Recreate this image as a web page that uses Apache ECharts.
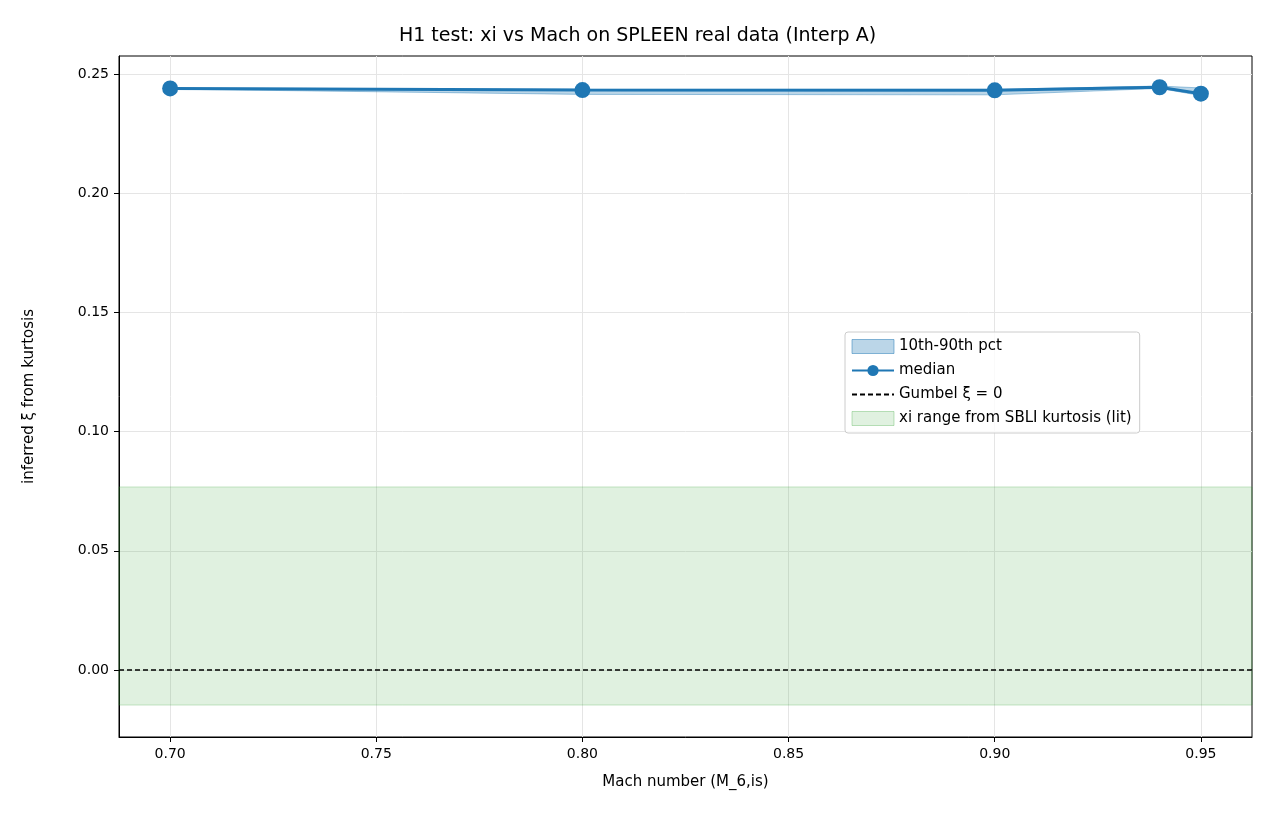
<!DOCTYPE html><html><head><meta charset="utf-8"><script src="https://cdn.jsdelivr.net/npm/echarts@6/dist/echarts.min.js"></script></head><body style="margin:0"><div id="c" style="width:1275px;height:825px"></div><script>
const mach=[0.70,0.80,0.90,0.94,0.95];
const median=[0.2440,0.2433,0.2432,0.2445,0.2418];
const p10=[0.2437,0.2415,0.2413,0.2440,0.2410];
const p90=[0.2442,0.2436,0.2436,0.2450,0.2442];
const litRange=[-0.0147,0.0768];
const xTicks=[0.70,0.75,0.80,0.85,0.90,0.95];
const yTicks=[0,0.05,0.1,0.15,0.2,0.25];
const f="DejaVu Sans";
const ch=echarts.init(document.getElementById('c'));
ch.setOption({animation:false,
title:{text:'H1 test: xi vs Mach on SPLEEN real data (Interp A)',left:'center',top:22,textStyle:{fontFamily:f,fontSize:19,fontWeight:'normal',color:'#000'}},
grid:{left:119,right:23,top:56,bottom:88,show:true,borderColor:'#000',borderWidth:1},
legend:{orient:'vertical',left:845,top:332,itemGap:9,padding:[7,8,7,6],borderColor:'#ccc',borderWidth:1,borderRadius:3,backgroundColor:'rgba(255,255,255,0.8)',textStyle:{fontFamily:f,fontSize:15,color:'#000'},itemWidth:42,itemHeight:14,
data:[{name:'10th-90th pct',icon:'rect',itemStyle:{color:'rgba(31,119,180,0.3)',borderColor:'rgba(31,119,180,0.5)',borderWidth:1}},{name:'median'},{name:'Gumbel ξ = 0',itemStyle:{opacity:0}},{name:'xi range from SBLI kurtosis (lit)',icon:'rect',itemStyle:{color:'rgba(44,160,44,0.15)',borderColor:'rgba(44,160,44,0.3)',borderWidth:1}}]},
xAxis:{type:'value',min:0.6876,max:0.9624,interval:0.05,name:'Mach number (M_6,is)',nameLocation:'middle',nameGap:38,nameTextStyle:{fontFamily:f,fontSize:15,color:'#000'},
axisLine:{onZero:false,lineStyle:{color:'#000'}},axisTick:{show:true,customValues:xTicks,lineStyle:{color:'#000'}},
axisLabel:{customValues:xTicks,formatter:v=>v.toFixed(2),fontFamily:f,fontSize:14,color:'#000',margin:10},splitLine:{show:true,lineStyle:{color:'#e5e5e5'}}},
yAxis:{type:'value',min:-0.0281,max:0.2576,name:'inferred ξ from kurtosis',nameLocation:'middle',nameGap:82,nameTextStyle:{fontFamily:f,fontSize:15,color:'#000'},
axisLine:{show:true,lineStyle:{color:'#000'}},axisTick:{show:true,customValues:yTicks,lineStyle:{color:'#000'}},
axisLabel:{customValues:yTicks,formatter:v=>v.toFixed(2),fontFamily:f,fontSize:14,color:'#000',margin:10},splitLine:{show:true,lineStyle:{color:'#e5e5e5'}}},
series:[
{name:'xi range from SBLI kurtosis (lit)',type:'line',data:[],itemStyle:{color:'rgba(44,160,44,0.15)'},
 markArea:{silent:true,itemStyle:{color:'rgba(44,160,44,0.15)',borderColor:'rgba(44,160,44,0.25)',borderWidth:1},data:[[{yAxis:litRange[0],xAxis:0.6876},{yAxis:litRange[1],xAxis:0.9624}]]}},
{name:'10th-90th pct',type:'custom',data:[0],itemStyle:{color:'rgba(31,119,180,0.3)'},
 renderItem:(params,api)=>{const pts=mach.map((m,i)=>api.coord([m,p90[i]])).concat(mach.map((m,i)=>api.coord([m,p10[i]])).reverse());
  return {type:'polygon',shape:{points:pts},style:{fill:'rgba(31,119,180,0.3)',stroke:'rgba(31,119,180,0.4)',lineWidth:1}};}},
{name:'Gumbel ξ = 0',type:'line',data:[[0.6876,0],[0.9624,0]],symbol:'circle',symbolSize:0,showSymbol:false,lineStyle:{color:'#000',type:[5,3],width:1.3},itemStyle:{color:'#000'}},
{name:'median',type:'line',data:mach.map((m,i)=>[m,median[i]]),symbol:'circle',symbolSize:16,lineStyle:{color:'#1f77b4',width:3},itemStyle:{color:'#1f77b4'},z:5}
]});
</script></body></html>
